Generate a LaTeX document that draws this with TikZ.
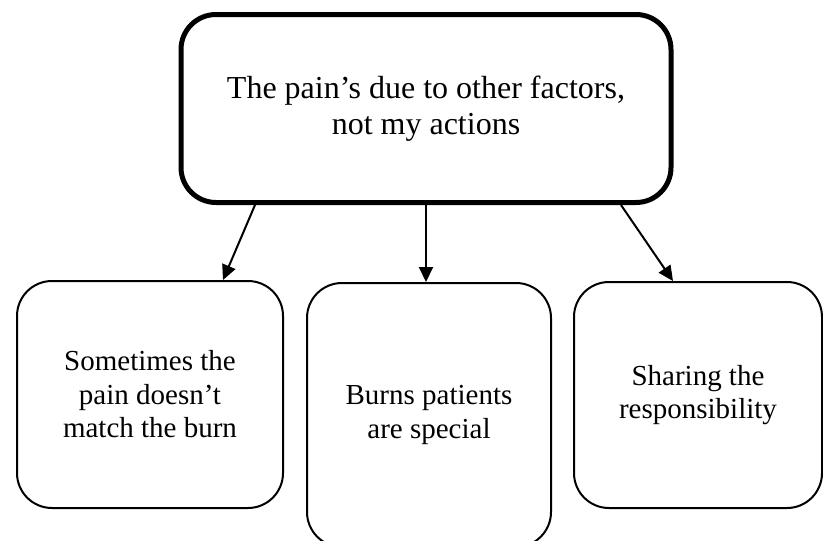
\documentclass[tikz,border=0pt]{standalone}
\usepackage{fontspec}
\setmainfont{Liberation Serif}
\usetikzlibrary{arrows.meta}

\tikzset{
  headbox/.style={draw=black, line width=5pt, rounded corners=35pt, inner sep=0pt,
    align=center, font=\fontsize{32}{36}\selectfont},
  themebox/.style={draw=black, line width=2pt, rounded corners=35pt, inner sep=0pt,
    align=center, font=\fontsize{29}{33.5}\selectfont},
  arr/.style={line width=2pt, -{Triangle[length=15pt,width=14pt]}}
}

\begin{document}
\begin{tikzpicture}[x=1pt,y=-1pt]
  \useasboundingbox (0,0) rectangle (823,541);
  \clip (0,0) rectangle (823,541);

  % main theme
  \node[headbox, minimum width=490pt, minimum height=188pt] (top) at (426,108.5)
    {The pain’s due to other factors,\\not my actions};

  % sub-themes
  \node[themebox, minimum width=266pt, minimum height=227pt] (left) at (150,394.5)
    {Sometimes the\\pain doesn’t\\match the burn};
  \node[themebox, minimum width=244pt, minimum height=264pt] (mid) at (429,415)
    {Burns patients\\are special};
  \node[themebox, minimum width=248pt, minimum height=226pt] (right) at (698,395)
    {Sharing the\\responsibility};

  % links from the main theme
  \draw[arr] ([xshift=-171pt]top.south) -- ([xshift=73pt]left.north);
  \draw[arr] (top.south) -- ([xshift=-3pt]mid.north);
  \draw[arr] ([xshift=195pt]top.south) -- ([xshift=-25pt]right.north);
\end{tikzpicture}
\end{document}
